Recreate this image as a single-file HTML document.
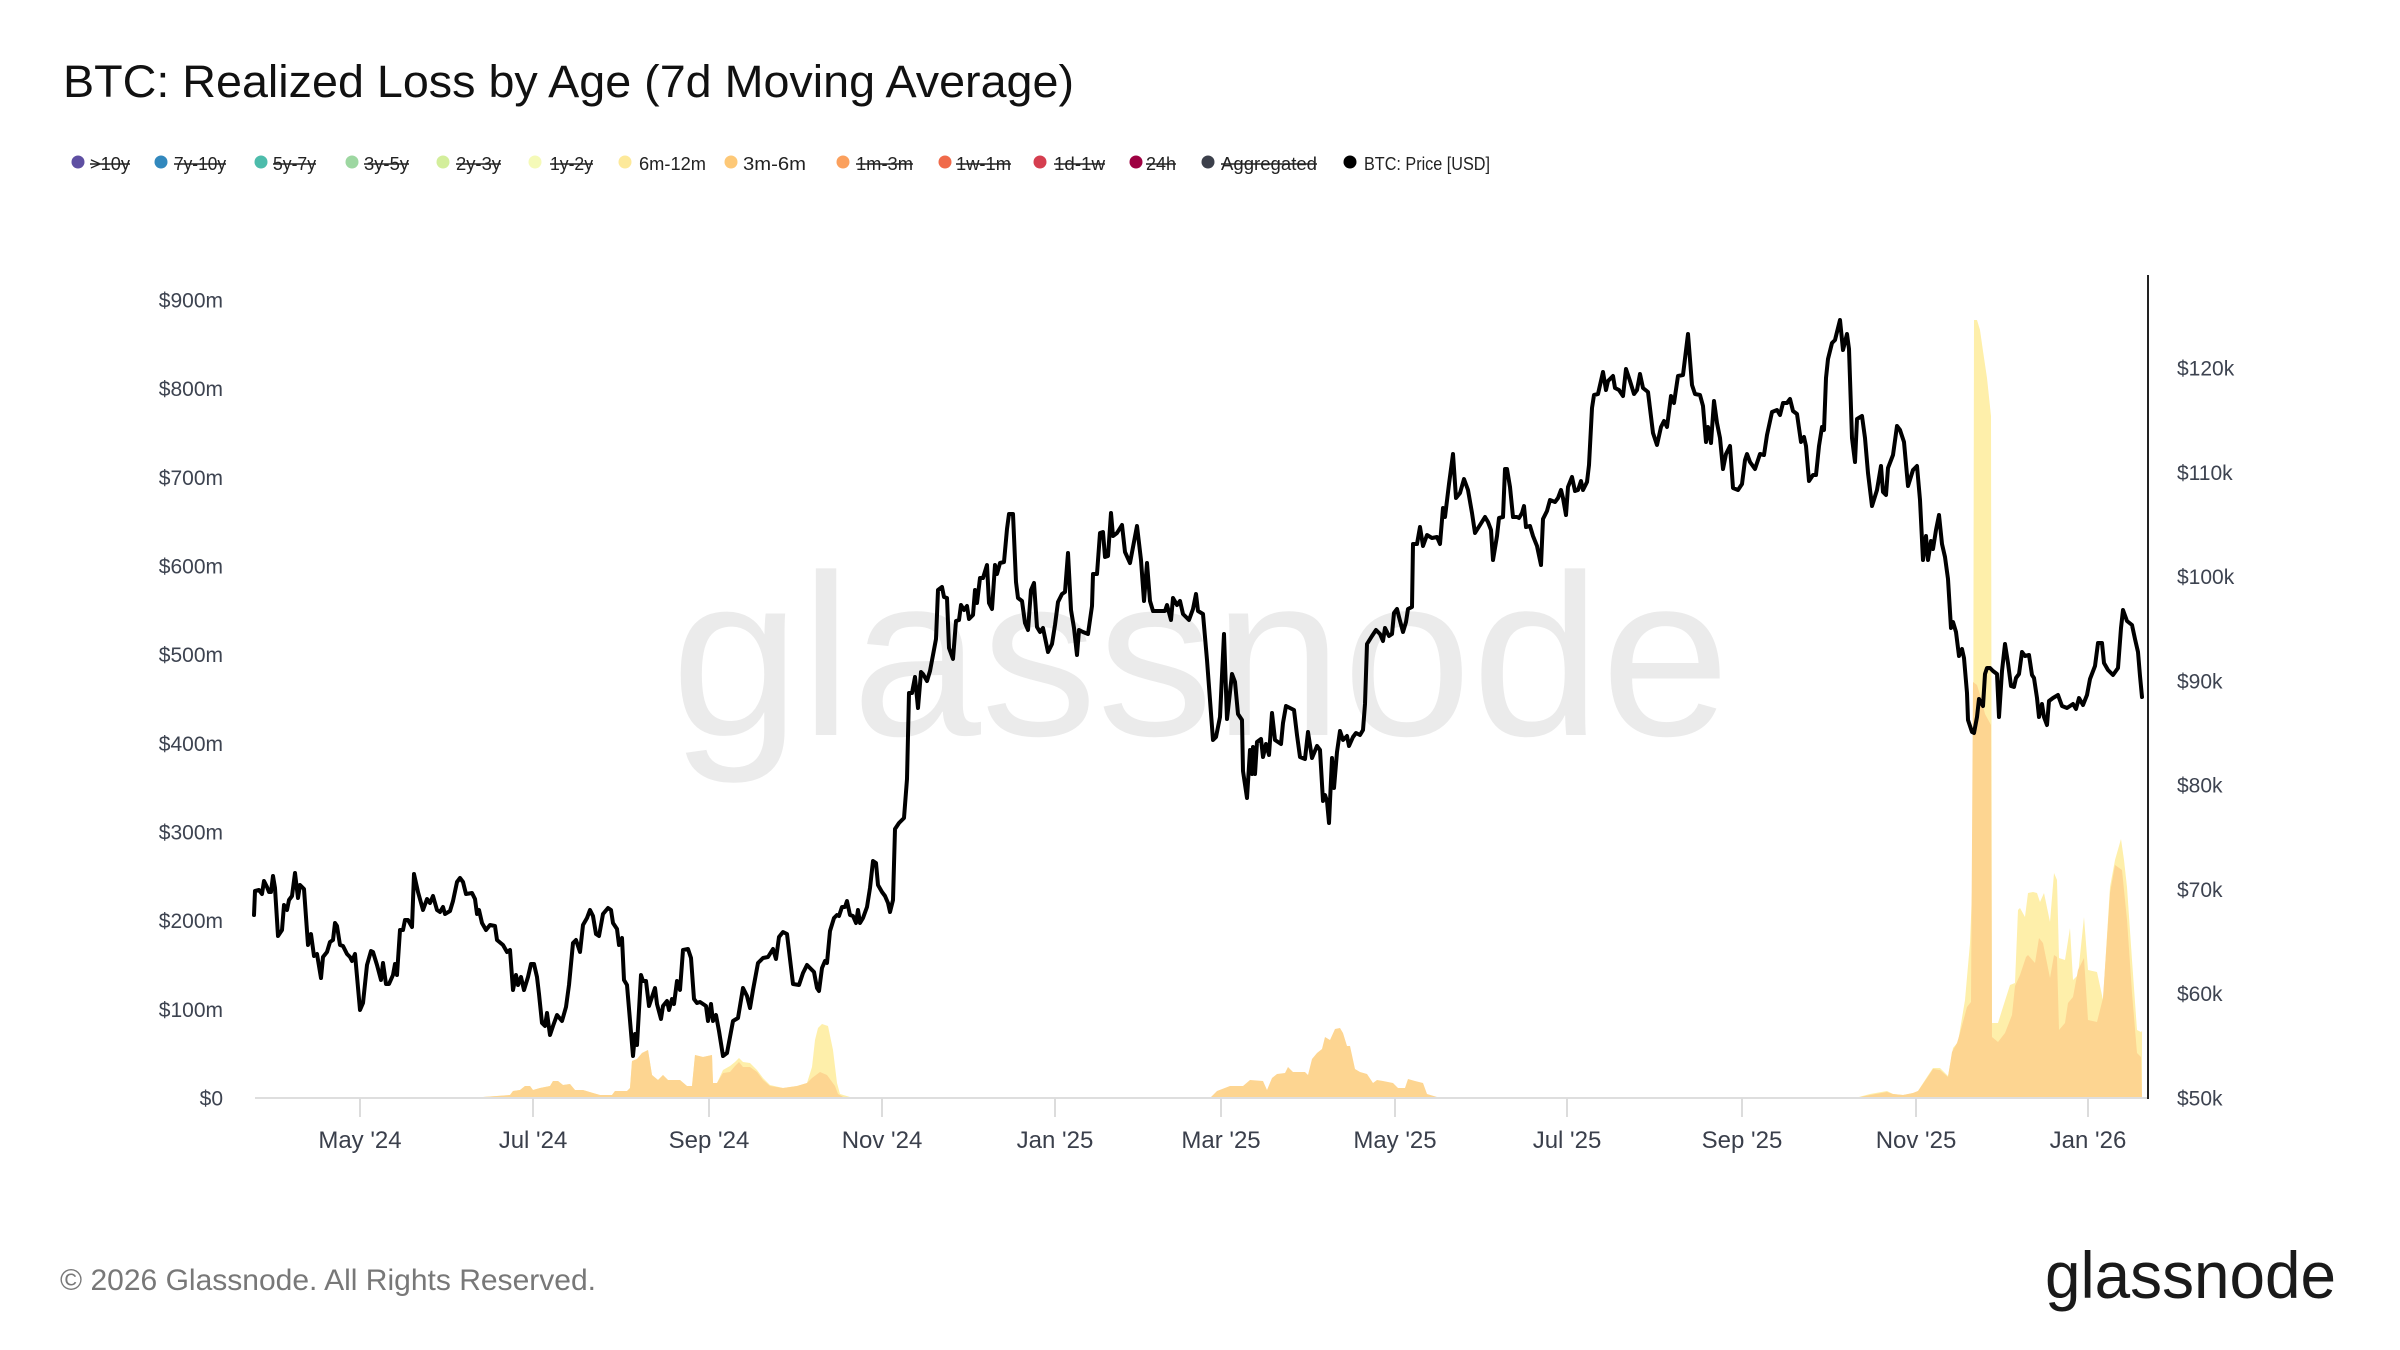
<!DOCTYPE html>
<html>
<head>
<meta charset="utf-8">
<style>
html,body{margin:0;padding:0;background:#fff;}
body{width:2400px;height:1350px;overflow:hidden;}
svg{display:block;}
text{font-family:"Liberation Sans",Arial,sans-serif;}
</style>
</head>
<body>
<svg width="2400" height="1350" viewBox="0 0 2400 1350" xmlns="http://www.w3.org/2000/svg">
<rect x="0" y="0" width="2400" height="1350" fill="#ffffff"/>

<!-- Title -->
<text x="63" y="97" font-size="45" fill="#111111" textLength="1011" lengthAdjust="spacingAndGlyphs">BTC: Realized Loss by Age (7d Moving Average)</text>

<!-- Legend -->
<g font-size="18" fill="#222222">
  <circle cx="78" cy="162" r="6.5" fill="#5e4fa2"/>
  <text x="90" y="170" textLength="40" lengthAdjust="spacingAndGlyphs">&gt;10y</text>
  <line x1="90" y1="164" x2="130" y2="164" stroke="#222" stroke-width="1.5"/>

  <circle cx="161" cy="162" r="6.5" fill="#3288bd"/>
  <text x="174" y="170" textLength="52" lengthAdjust="spacingAndGlyphs">7y-10y</text>
  <line x1="174" y1="164" x2="226" y2="164" stroke="#222" stroke-width="1.5"/>

  <circle cx="261" cy="162" r="6.5" fill="#4dbcab"/>
  <text x="273" y="170" textLength="43" lengthAdjust="spacingAndGlyphs">5y-7y</text>
  <line x1="273" y1="164" x2="316" y2="164" stroke="#222" stroke-width="1.5"/>

  <circle cx="352" cy="162" r="6.5" fill="#9dd7a1"/>
  <text x="364" y="170" textLength="45" lengthAdjust="spacingAndGlyphs">3y-5y</text>
  <line x1="364" y1="164" x2="409" y2="164" stroke="#222" stroke-width="1.5"/>

  <circle cx="443" cy="162" r="6.5" fill="#d3ee9b"/>
  <text x="456" y="170" textLength="45" lengthAdjust="spacingAndGlyphs">2y-3y</text>
  <line x1="456" y1="164" x2="501" y2="164" stroke="#222" stroke-width="1.5"/>

  <circle cx="535" cy="162" r="6.5" fill="#f5fab8"/>
  <text x="550" y="170" textLength="43" lengthAdjust="spacingAndGlyphs">1y-2y</text>
  <line x1="550" y1="164" x2="593" y2="164" stroke="#222" stroke-width="1.5"/>

  <circle cx="625" cy="162" r="6.5" fill="#fde99a"/>
  <text x="639" y="170" textLength="67" lengthAdjust="spacingAndGlyphs">6m-12m</text>

  <circle cx="731" cy="162" r="6.5" fill="#fdc877"/>
  <text x="743" y="170" textLength="63" lengthAdjust="spacingAndGlyphs">3m-6m</text>

  <circle cx="843" cy="162" r="6.5" fill="#fba05d"/>
  <text x="856" y="170" textLength="57" lengthAdjust="spacingAndGlyphs">1m-3m</text>
  <line x1="856" y1="164" x2="913" y2="164" stroke="#222" stroke-width="1.5"/>

  <circle cx="945" cy="162" r="6.5" fill="#f06a4a"/>
  <text x="956" y="170" textLength="55" lengthAdjust="spacingAndGlyphs">1w-1m</text>
  <line x1="956" y1="164" x2="1011" y2="164" stroke="#222" stroke-width="1.5"/>

  <circle cx="1040" cy="162" r="6.5" fill="#d53e4f"/>
  <text x="1054" y="170" textLength="51" lengthAdjust="spacingAndGlyphs">1d-1w</text>
  <line x1="1054" y1="164" x2="1105" y2="164" stroke="#222" stroke-width="1.5"/>

  <circle cx="1136" cy="162" r="6.5" fill="#9e0142"/>
  <text x="1146" y="170" textLength="30" lengthAdjust="spacingAndGlyphs">24h</text>
  <line x1="1146" y1="164" x2="1176" y2="164" stroke="#222" stroke-width="1.5"/>

  <circle cx="1208" cy="162" r="6.5" fill="#3c404b"/>
  <text x="1221" y="170" textLength="96" lengthAdjust="spacingAndGlyphs">Aggregated</text>
  <line x1="1221" y1="164" x2="1317" y2="164" stroke="#222" stroke-width="1.5"/>

  <circle cx="1350" cy="162" r="6.5" fill="#000000"/>
  <text x="1364" y="170" textLength="126" lengthAdjust="spacingAndGlyphs">BTC: Price [USD]</text>
</g>

<!-- Watermark -->
<text x="671" y="735" font-size="230" fill="#ebebeb" textLength="1059" lengthAdjust="spacingAndGlyphs">glassnode</text>

<!-- Areas: 6m-12m (total, behind) -->
<g fill="#feefaa" stroke="none">
  <polygon points="483,1098 483,1097 510,1095 513,1091 520,1090 525,1086 530,1086 533,1090 540,1088 545,1087 550,1086 553,1081 558,1081 563,1085 570,1084 575,1090 583,1090 593,1093 600,1095 612,1095 615,1091 627,1091 630,1088 632,1061 637,1059 642,1053 648,1050 652,1075 658,1080 663,1075 668,1080 680,1080 687,1086 692,1086 695,1055 703,1057 712,1055 713,1083 717,1083 723,1070 730,1066 735,1062 739,1058 743,1062 750,1063 757,1070 763,1078 770,1085 783,1088 797,1086 807,1083 812,1067 815,1040 818,1028 822,1024 828,1026 833,1050 837,1083 840,1094 850,1097 860,1098"/>
  <polygon points="1855,1098 1870,1094 1887,1091 1893,1094 1903,1095 1913,1093 1918,1091 1927,1077 1933,1068 1940,1068 1948,1076 1953,1048 1958,1042 1965,1000 1970,943 1973,866 1974,320 1977,320 1980,330 1983,351 1987,378 1991,416 1992,1023 1998,1023 2003,1007 2010,985 2015,983 2018,910 2020,908 2025,917 2028,893 2033,892 2037,893 2040,902 2044,893 2050,922 2054,873 2057,880 2059,958 2065,960 2070,928 2073,980 2078,975 2084,917 2088,970 2097,972 2103,1000 2110,887 2115,860 2121,839 2124,860 2127,887 2132,960 2137,1030 2141,1032 2142,1031 2142,1098"/>
</g>
<!-- Areas: 3m-6m (front) -->
<g fill="#fdd591" stroke="none">
  <polygon points="483,1098 483,1097 510,1095 513,1091 520,1090 525,1086 530,1086 533,1090 540,1088 545,1087 550,1086 553,1081 558,1081 563,1085 570,1084 575,1090 583,1090 593,1093 600,1095 612,1095 615,1091 627,1091 630,1088 632,1061 637,1059 642,1053 648,1050 652,1075 658,1080 663,1075 668,1080 680,1080 687,1086 692,1086 695,1055 703,1057 712,1055 713,1083 717,1083 723,1073 730,1072 735,1066 739,1062 743,1067 750,1067 757,1072 763,1080 770,1086 783,1088 797,1086 807,1083 812,1078 820,1072 827,1075 835,1086 838,1094 845,1098"/>
  <polygon points="1210,1098 1217,1091 1230,1086 1243,1086 1250,1080 1263,1081 1267,1090 1272,1078 1277,1074 1285,1073 1288,1067 1293,1072 1305,1072 1308,1075 1312,1059 1317,1053 1322,1049 1325,1037 1330,1040 1335,1029 1340,1028 1343,1033 1347,1046 1350,1046 1355,1069 1360,1072 1367,1074 1373,1083 1377,1080 1383,1081 1393,1083 1398,1088 1405,1088 1408,1079 1415,1081 1423,1083 1427,1094 1437,1097 1450,1098"/>
  <polygon points="1855,1098 1870,1095 1887,1092 1893,1094 1903,1095 1913,1093 1918,1091 1927,1078 1933,1069 1940,1070 1948,1077 1952,1052 1957,1043 1960,1033 1967,1007 1971,1002 1973,682 1977,685 1981,698 1985,714 1991,725 1992,1037 1998,1042 2005,1033 2012,1015 2015,986 2020,975 2026,957 2028,955 2035,963 2039,938 2043,943 2050,978 2054,955 2057,957 2059,1030 2065,1023 2068,1003 2073,997 2078,970 2084,958 2088,1020 2097,1022 2103,998 2110,893 2115,865 2122,870 2127,920 2132,993 2137,1053 2141,1057 2142,1098"/>
</g>

<!-- Baseline and ticks -->
<line x1="255" y1="1098" x2="2148" y2="1098" stroke="#dedede" stroke-width="2"/>
<g stroke="#dcdcdc" stroke-width="2">
  <line x1="360" y1="1098" x2="360" y2="1117"/>
  <line x1="533" y1="1098" x2="533" y2="1117"/>
  <line x1="709" y1="1098" x2="709" y2="1117"/>
  <line x1="882" y1="1098" x2="882" y2="1117"/>
  <line x1="1055" y1="1098" x2="1055" y2="1117"/>
  <line x1="1221" y1="1098" x2="1221" y2="1117"/>
  <line x1="1395" y1="1098" x2="1395" y2="1117"/>
  <line x1="1567" y1="1098" x2="1567" y2="1117"/>
  <line x1="1742" y1="1098" x2="1742" y2="1117"/>
  <line x1="1916" y1="1098" x2="1916" y2="1117"/>
  <line x1="2088" y1="1098" x2="2088" y2="1117"/>
</g>

<!-- Right axis line -->
<line x1="2148" y1="275" x2="2148" y2="1099" stroke="#222222" stroke-width="2"/>

<!-- Price line -->
<polyline fill="none" stroke="#000000" stroke-width="4" stroke-linejoin="round" stroke-linecap="round" points="254,915 255,891 259,890 262,894 264,881 267,887 269,892 271,892 273,876 275,888 278,936 282,930 284,905 287,910 289,900 292,896 295,873 298,898 300,885 304,889 308,945 311,934 314,956 317,954 321,978 323,957 327,952 330,942 333,940 335,923 337,926 340,945 343,946 347,954 350,957 352,961 355,954 360,1010 363,1003 367,965 371,951 373,952 377,965 381,980 383,963 386,984 389,984 393,975 395,964 397,975 400,930 403,930 405,920 408,920 412,927 414,874 418,892 423,910 427,899 430,903 433,896 437,910 440,912 443,907 445,914 450,911 453,901 457,882 460,878 463,882 466,894 472,893 475,899 477,914 479,910 482,923 486,930 490,925 495,926 497,940 503,945 507,952 510,950 513,990 516,975 518,985 521,977 524,990 528,977 531,964 534,964 537,977 539,994 542,1023 545,1026 547,1013 550,1035 553,1026 557,1015 562,1021 566,1007 569,985 573,943 576,940 580,952 583,925 587,918 590,910 593,916 596,934 599,936 603,914 608,908 611,910 613,923 617,929 619,945 622,938 624,980 627,985 633,1056 635,1034 637,1045 641,975 643,981 646,981 649,1006 652,997 655,988 657,1004 661,1019 663,1006 667,1001 669,1010 672,999 674,1004 677,981 680,990 683,950 688,949 691,958 694,999 697,1003 700,1002 706,1006 708,1021 711,1004 713,1021 716,1015 719,1031 723,1056 727,1053 730,1037 733,1021 738,1018 743,988 747,996 750,1008 753,990 758,963 763,958 768,957 773,949 776,959 779,937 783,932 787,934 793,984 799,985 803,973 807,965 811,969 814,972 817,988 819,991 822,968 825,961 827,963 830,931 834,918 837,915 839,916 842,907 845,907 847,901 850,915 853,916 856,923 858,910 860,923 863,918 867,907 870,888 873,861 876,863 878,885 882,892 885,896 888,903 890,912 893,900 895,829 899,823 904,818 907,779 909,693 912,693 915,677 918,708 921,672 923,674 927,681 930,671 933,655 936,639 938,590 942,587 944,597 947,598 949,648 953,659 956,621 959,620 961,605 964,610 967,606 969,619 973,615 975,590 977,603 980,578 983,578 987,565 989,603 992,609 995,565 997,574 1000,563 1004,562 1007,529 1009,514 1013,514 1016,582 1018,598 1022,601 1025,623 1028,630 1031,590 1034,583 1037,627 1040,632 1043,628 1048,652 1052,644 1055,625 1058,602 1062,594 1065,592 1068,553 1071,610 1074,628 1077,655 1079,630 1083,632 1088,634 1092,606 1093,574 1097,574 1100,533 1103,532 1105,557 1108,556 1111,513 1113,536 1117,533 1122,525 1125,552 1130,563 1137,526 1141,560 1144,601 1147,563 1150,601 1153,611 1165,611 1167,605 1171,620 1173,598 1177,605 1180,601 1183,614 1189,620 1193,609 1196,594 1198,611 1203,614 1207,660 1213,740 1216,737 1220,717 1224,634 1227,719 1232,674 1235,682 1238,714 1242,720 1243,771 1247,798 1250,750 1252,774 1253,747 1255,774 1257,742 1261,739 1263,757 1266,744 1269,755 1272,713 1275,740 1281,744 1283,723 1286,706 1290,708 1294,710 1297,735 1300,757 1305,759 1308,732 1312,758 1317,746 1320,750 1323,801 1325,795 1327,801 1329,823 1332,758 1334,788 1337,752 1340,731 1343,740 1347,736 1349,746 1353,737 1356,733 1360,735 1363,730 1365,704 1367,644 1372,636 1376,630 1380,634 1383,641 1385,628 1389,636 1392,634 1394,613 1397,609 1399,617 1403,632 1406,622 1408,609 1412,607 1413,544 1417,544 1420,527 1423,546 1427,535 1432,538 1437,537 1440,544 1443,508 1445,517 1449,484 1453,454 1456,498 1460,493 1464,479 1468,490 1472,513 1475,533 1480,525 1485,517 1488,522 1491,530 1493,560 1497,536 1499,518 1503,517 1505,469 1507,469 1510,487 1513,517 1517,517 1519,518 1522,513 1524,506 1526,527 1530,526 1533,536 1537,546 1541,565 1543,519 1547,511 1550,500 1555,502 1558,498 1561,490 1563,498 1566,515 1568,487 1572,477 1575,491 1578,490 1581,481 1583,490 1587,482 1589,465 1592,408 1594,395 1598,394 1603,372 1606,390 1608,381 1613,376 1615,388 1619,390 1623,396 1626,369 1630,381 1634,394 1637,390 1640,374 1643,388 1648,392 1653,433 1657,445 1661,427 1664,421 1667,427 1671,396 1674,403 1678,376 1683,375 1688,334 1692,385 1695,394 1700,395 1703,406 1706,442 1708,427 1711,443 1714,401 1717,423 1720,438 1723,469 1726,454 1730,446 1733,488 1738,490 1742,484 1745,460 1747,454 1750,462 1755,469 1760,454 1764,455 1767,435 1772,412 1777,410 1780,415 1783,403 1787,403 1790,399 1793,411 1797,414 1801,442 1804,437 1806,446 1809,481 1813,475 1816,475 1819,446 1822,427 1824,430 1826,378 1828,359 1832,343 1835,340 1840,320 1843,350 1847,334 1849,349 1852,438 1855,462 1857,419 1862,416 1865,438 1868,473 1872,506 1877,490 1881,466 1883,492 1886,495 1888,468 1893,455 1897,426 1900,430 1904,442 1908,486 1913,470 1917,466 1920,500 1923,560 1926,536 1928,560 1931,541 1933,549 1936,530 1939,515 1942,544 1945,557 1948,579 1951,628 1953,622 1956,632 1959,656 1962,649 1964,658 1967,693 1968,720 1972,732 1974,733 1977,717 1979,699 1983,706 1985,674 1987,668 1990,668 1993,671 1997,674 1999,717 2002,671 2005,644 2008,663 2011,686 2014,687 2016,678 2019,674 2022,652 2025,656 2029,655 2032,675 2034,678 2037,698 2039,717 2042,704 2044,717 2047,725 2049,701 2053,698 2058,695 2062,706 2067,708 2073,704 2076,709 2079,698 2083,705 2087,695 2090,679 2095,666 2098,643 2102,643 2104,663 2108,670 2113,675 2118,668 2121,628 2123,610 2127,621 2132,625 2135,639 2138,652 2140,676 2142,697"/>

<!-- Left axis labels -->
<g font-size="21" fill="#3d4350" text-anchor="end">
  <text x="223" y="1105.5">$0</text>
  <text x="223" y="1016.8">$100m</text>
  <text x="223" y="928.2">$200m</text>
  <text x="223" y="839.5">$300m</text>
  <text x="223" y="750.8">$400m</text>
  <text x="223" y="662.2">$500m</text>
  <text x="223" y="573.5">$600m</text>
  <text x="223" y="484.8">$700m</text>
  <text x="223" y="396.1">$800m</text>
  <text x="223" y="307.5">$900m</text>
</g>

<!-- Right axis labels -->
<g font-size="21" fill="#3d4350">
  <text x="2177" y="1105.5">$50k</text>
  <text x="2177" y="1001.2">$60k</text>
  <text x="2177" y="896.9">$70k</text>
  <text x="2177" y="792.6">$80k</text>
  <text x="2177" y="688.4">$90k</text>
  <text x="2177" y="584.1">$100k</text>
  <text x="2177" y="479.8">$110k</text>
  <text x="2177" y="375.5">$120k</text>
</g>

<!-- X axis labels -->
<g font-size="24" fill="#3a3f4b" text-anchor="middle">
  <text x="360" y="1148">May '24</text>
  <text x="533" y="1148">Jul '24</text>
  <text x="709" y="1148">Sep '24</text>
  <text x="882" y="1148">Nov '24</text>
  <text x="1055" y="1148">Jan '25</text>
  <text x="1221" y="1148">Mar '25</text>
  <text x="1395" y="1148">May '25</text>
  <text x="1567" y="1148">Jul '25</text>
  <text x="1742" y="1148">Sep '25</text>
  <text x="1916" y="1148">Nov '25</text>
  <text x="2088" y="1148">Jan '26</text>
</g>

<!-- Footer -->
<text x="60" y="1290" font-size="30" fill="#787878" textLength="536" lengthAdjust="spacingAndGlyphs">© 2026 Glassnode. All Rights Reserved.</text>
<text x="2045" y="1298" font-size="66" fill="#1a1a1a" textLength="291" lengthAdjust="spacingAndGlyphs">glassnode</text>
</svg>
</body>
</html>
